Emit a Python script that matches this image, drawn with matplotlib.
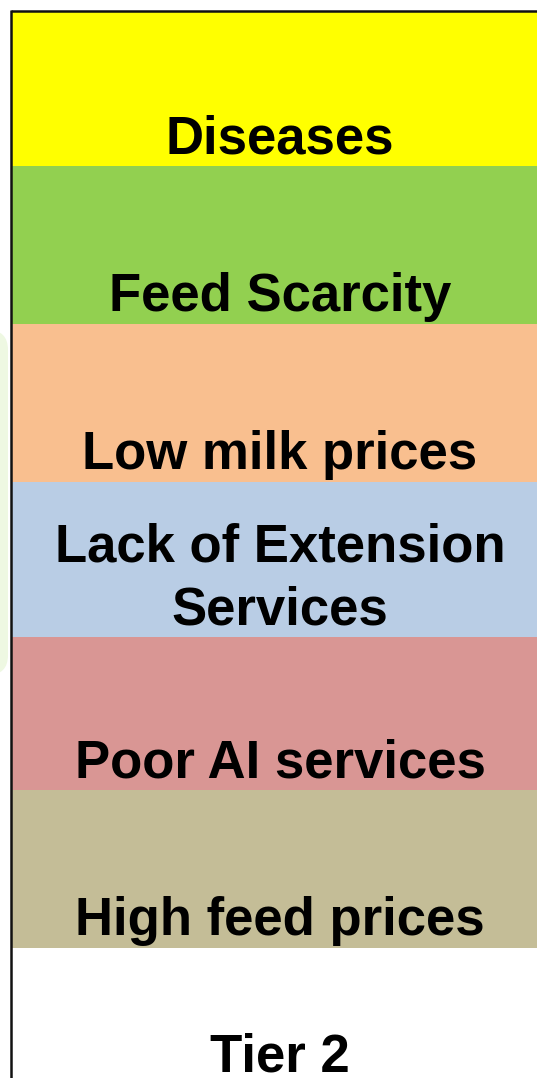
import matplotlib.pyplot as plt
import numpy as np
from matplotlib.patches import FancyBboxPatch

plt.rcParams['font.family'] = ['Liberation Sans', 'DejaVu Sans']

# constraint labels, top to bottom
labels = ["Diseases", "Feed Scarcity", "Low milk prices",
          "Lack of Extension\nServices", "Poor AI services", "High feed prices"]
# band edges (pixel rows in the original slide)
band_edges = [11, 166, 324, 482, 637, 790, 948]
colors = ["#FFFF00", "#92D050", "#F9BF8F", "#B9CDE5", "#D99694", "#C4BD97"]
tier_label = "Tier 2"

W, H = 537, 1078
fig = plt.figure(figsize=(W / 100, H / 100), dpi=100)
ax = fig.add_axes([0, 0, 1, 1])
ax.set_xlim(0, W)
ax.set_ylim(H, 0)
ax.axis('off')

# faint green shape peeking in from the left
ax.add_patch(FancyBboxPatch((-40, 330), 48, 345, boxstyle="round,pad=0,rounding_size=20",
                            fc="#EEF8E2", ec="none", zorder=0))

edges = np.array(band_edges)
tops = edges[:-1]
heights = np.diff(edges)
ax.bar(12, heights, bottom=tops, width=W - 12, align='edge', color=colors,
       edgecolor='none', zorder=1)

for lab, bot in zip(labels, edges[1:]):
    ax.text(280, bot - 12.5, lab, ha='center', va='baseline', fontsize=38,
            fontweight='bold', linespacing=1.33, zorder=3)

ax.text(280, 1071, tier_label, ha='center', va='baseline', fontsize=38,
        fontweight='bold', zorder=3)

# frame lines on the top and left
ax.plot([11, W], [10.5, 10.5], color='#111111', lw=1.8, solid_capstyle='butt', zorder=4)
ax.plot([11, 11], [9.5, H], color='#111111', lw=1.8, solid_capstyle='butt', zorder=4)

fig.savefig("out.png", dpi=100)
